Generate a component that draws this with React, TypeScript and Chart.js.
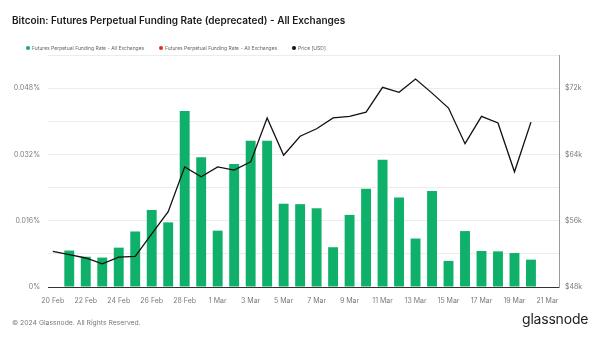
import React, { useEffect, useRef } from "react";
import { Chart, registerables } from "chart.js";

Chart.register(...registerables);

const dates = [
  "20 Feb", "21 Feb", "22 Feb", "23 Feb", "24 Feb", "25 Feb", "26 Feb", "27 Feb", "28 Feb", "29 Feb",
  "1 Mar", "2 Mar", "3 Mar", "4 Mar", "5 Mar", "6 Mar", "7 Mar", "8 Mar", "9 Mar", "10 Mar",
  "11 Mar", "12 Mar", "13 Mar", "14 Mar", "15 Mar", "16 Mar", "17 Mar", "18 Mar", "19 Mar", "20 Mar", "21 Mar",
];

// Funding rate in percent (first day has no bar)
const fundingRate = [
  null, 0.0088, 0.0073, 0.0071, 0.0095, 0.0134, 0.0186, 0.0156, 0.0425, 0.0313,
  0.0136, 0.0297, 0.0353, 0.0353, 0.0201, 0.0200, 0.0190, 0.0096, 0.0174, 0.0237,
  0.0307, 0.0216, 0.0117, 0.0232, 0.0063, 0.0135, 0.0087, 0.0086, 0.0082, 0.0066,
];

const priceUsd = [
  52300, 51900, 51500, 50800, 51600, 51700, 54400, 57100, 62500, 61300,
  62500, 62100, 63100, 68400, 63900, 66200, 67100, 68400, 68600, 69100,
  72100, 71500, 73100, 71400, 69600, 65300, 68600, 67800, 61900, 67900,
];

const xTickDays = [0, 2, 4, 6, 8, 10, 12, 14, 16, 18, 20, 22, 24, 26, 28, 30];

const legendNames = [
  "Futures Perpetual Funding Rate - All Exchanges",
  "Futures Perpetual Funding Rate - All Exchanges",
  "Price [USD]",
];
const legendColors = ["#0fb06a", "#e8262b", "#111111"];

const titleText = "Bitcoin: Futures Perpetual Funding Rate (deprecated) - All Exchanges";
const footerText = "© 2024 Glassnode. All Rights Reserved.";

const FONT = "Inter, 'Noto Sans', sans-serif";

export default function App() {
  const ref = useRef<HTMLCanvasElement | null>(null);

  useEffect(() => {
    document.body.style.margin = "0";
    const canvas = ref.current;
    if (!canvas) return;
    const chart = new Chart(canvas, {
      type: "bar",
      data: {
        datasets: [
          {
            type: "line",
            label: legendNames[2],
            data: priceUsd.map((v, i) => ({ x: i, y: v })),
            borderColor: "#111111",
            borderWidth: 1.3,
            pointRadius: 0,
            tension: 0,
            yAxisID: "yPrice",
            order: 0,
          } as any,
          {
            type: "bar",
            label: legendNames[0],
            data: fundingRate.map((v, i) => ({ x: i, y: v })),
            backgroundColor: legendColors[0],
            borderWidth: 0,
            barPercentage: 0.6,
            categoryPercentage: 1,
            yAxisID: "yRate",
            order: 1,
          } as any,
        ],
      },
      options: {
        animation: false,
        responsive: false,
        devicePixelRatio: 1,
        layout: { padding: { top: 55, bottom: 30, left: 0, right: 0 } },
        plugins: { legend: { display: false }, tooltip: { enabled: false }, title: { display: false } },
        scales: {
          x: {
            type: "linear",
            min: -0.29,
            max: 30.7,
            offset: false,
            grid: { display: false, offset: false },
            border: { display: true, color: "#333333", width: 1 },
            afterBuildTicks: (scale: any) => {
              scale.ticks = xTickDays.map((v) => ({ value: v }));
            },
            afterFit: (scale: any) => {
              scale.height = 20;
            },
            ticks: {
              autoSkip: false,
              maxRotation: 0,
              padding: 2,
              color: "#7a7a7a",
              font: { family: FONT, size: 7 },
              callback: (v: any) => dates[Math.round(Number(v))] ?? "",
            },
          },
          yRate: {
            type: "linear",
            position: "left",
            min: 0,
            max: 0.056,
            grid: { color: "#ececec", drawTicks: false, lineWidth: 1 },
            border: { display: false },
            afterFit: (scale: any) => {
              scale.width = 48;
            },
            ticks: {
              stepSize: 0.008,
              padding: 8,
              color: "#7a7a7a",
              font: { family: FONT, size: 7 },
              callback: (v: any) => {
                const n = Math.round(Number(v) / 0.008);
                if (n % 2 !== 0) return "";
                return n === 0 ? "0%" : (n * 0.008).toFixed(3) + "%";
              },
            },
          },
          yPrice: {
            type: "linear",
            position: "right",
            min: 48000,
            max: 76000,
            grid: { display: false, drawTicks: false },
            border: { display: true, color: "#9a9a9a", width: 1 },
            afterFit: (scale: any) => {
              scale.width = 41;
            },
            ticks: {
              stepSize: 4000,
              padding: 6,
              color: "#7a7a7a",
              font: { family: FONT, size: 7 },
              callback: (v: any) => {
                const n = Math.round((Number(v) - 48000) / 4000);
                if (n % 2 !== 0) return "";
                return "$" + Math.round(Number(v) / 1000) + "k";
              },
            },
          },
        },
      },
    });
    return () => chart.destroy();
  }, []);

  return (
    <div style={{ position: "relative", width: 600, height: 337, background: "#ffffff", overflow: "hidden", fontFamily: FONT }}>
      <canvas ref={ref} width={600} height={337} style={{ position: "absolute", left: 0, top: 0, width: 600, height: 337 }} />
      <div style={{ position: "absolute", left: 12, top: 14, fontSize: 10, fontWeight: 600, color: "#1a1a1a", whiteSpace: "nowrap" }}>
        {titleText}
      </div>
      <div style={{ position: "absolute", left: 26, top: 45, display: "flex", alignItems: "center", fontSize: 5, color: "#666", whiteSpace: "nowrap" }}>
        {legendNames.map((name, i) => (
          <div key={i} style={{ display: "flex", alignItems: "center", width: i === 2 ? "auto" : 133 }}>
            <span style={{ display: "inline-block", width: 4, height: 4, borderRadius: 2, background: legendColors[i], marginRight: 2 }} />
            <span>{name}</span>
          </div>
        ))}
      </div>
      <div style={{ position: "absolute", left: 12, top: 318, fontSize: 6.8, color: "#7a7a7a", whiteSpace: "nowrap" }}>
        {footerText}
      </div>
      <div style={{ position: "absolute", left: 522, top: 310, fontSize: 14, fontWeight: 400, color: "#222", whiteSpace: "nowrap", letterSpacing: -0.2 }}>
        glassnode
      </div>
    </div>
  );
}
